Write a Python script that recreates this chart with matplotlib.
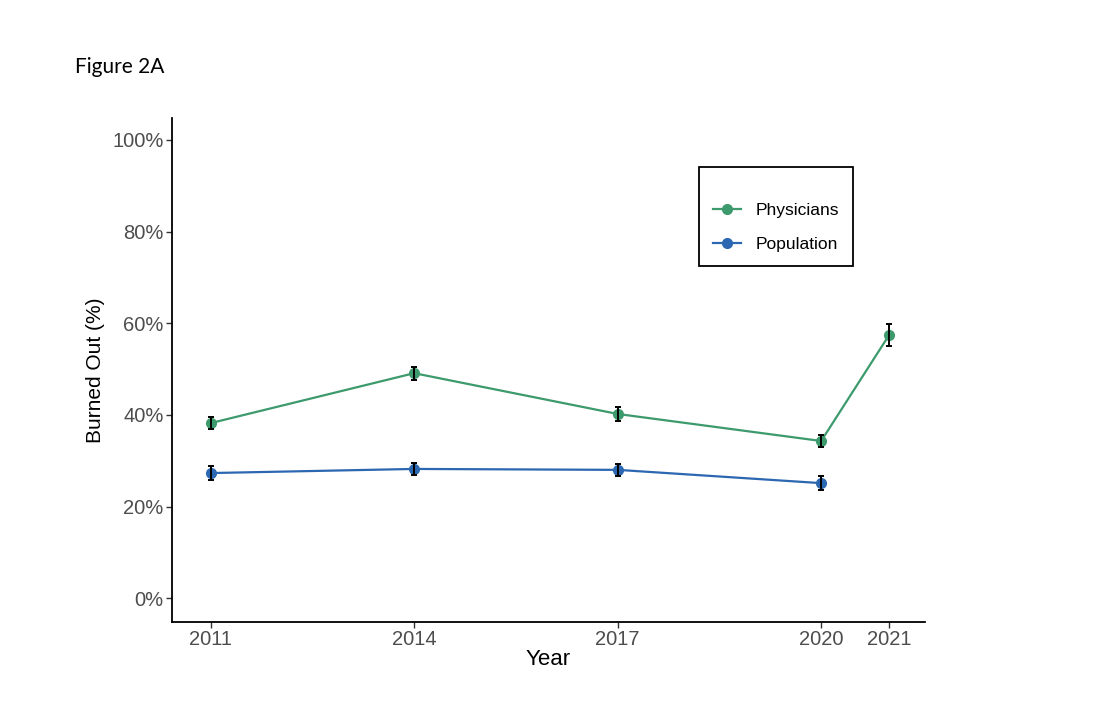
import matplotlib.pyplot as plt
from matplotlib.ticker import FuncFormatter

# values (percent burned out)
years = [2011, 2014, 2017, 2020, 2021]
physicians = [38.2, 49.1, 40.2, 34.3, 57.4]
physicians_err = [1.3, 1.45, 1.6, 1.3, 2.4]
pop_years = [2011, 2014, 2017, 2020]
population = [27.3, 28.2, 28.0, 25.1]
population_err = [1.45, 1.35, 1.3, 1.5]
y_ticks = [0, 20, 40, 60, 80, 100]

green = '#3d9a6c'
blue = '#2c67b1'

plt.rcParams['font.family'] = ['Liberation Sans', 'DejaVu Sans']

fig = plt.figure(figsize=(10.94, 7.10), dpi=100)
ax = fig.add_axes([0.1572, 0.124, 0.6883, 0.7098])

# lines + points
ax.plot(years, physicians, color=green, lw=1.6, marker='o', ms=7, label='Physicians', zorder=3)
ax.plot(pop_years, population, color=blue, lw=1.6, marker='o', ms=7, label='Population', zorder=3)
# error bars on top
ax.errorbar(years, physicians, yerr=physicians_err, fmt='none', ecolor='black', elinewidth=1.4, capsize=2.5, capthick=1.4, zorder=4)
ax.errorbar(pop_years, population, yerr=population_err, fmt='none', ecolor='black', elinewidth=1.4, capsize=2.5, capthick=1.4, zorder=4)

ax.set_xlim(2010.43, 2021.53)
ax.set_ylim(-5.2, 104.8)
ax.set_xticks(years)
ax.set_yticks(y_ticks)
ax.yaxis.set_major_formatter(FuncFormatter(lambda v, p: '%d%%' % v))

for s in ['top', 'right']:
    ax.spines[s].set_visible(False)
for s in ['left', 'bottom']:
    ax.spines[s].set_linewidth(1.3)
    ax.spines[s].set_color('black')
ax.tick_params(axis='both', length=4, width=1, color='#333333', labelcolor='#4d4d4d', labelsize=14.5, pad=2)

ax.set_xlabel('Year', fontsize=16, color='black', labelpad=0)
ax.set_ylabel('Burned Out (%)', fontsize=15, color='black', labelpad=5)

leg = ax.legend(loc='upper left', bbox_to_anchor=(699 / 1094, 1 - 167 / 710), bbox_transform=fig.transFigure,
                borderaxespad=0, fancybox=False, edgecolor='black', fontsize=12.5, handlelength=1.6,
                borderpad=0.8, labelspacing=1.05, handletextpad=0.85, framealpha=1,
                title=' ', title_fontsize=2)
leg.get_frame().set_linewidth(1.3)

fig.text(75 / 1094, 1 - 67 / 710, 'Figure 2A', fontsize=15, family=['Lato', 'DejaVu Sans'], va='center', ha='left')

fig.savefig('out.png', dpi=100)
